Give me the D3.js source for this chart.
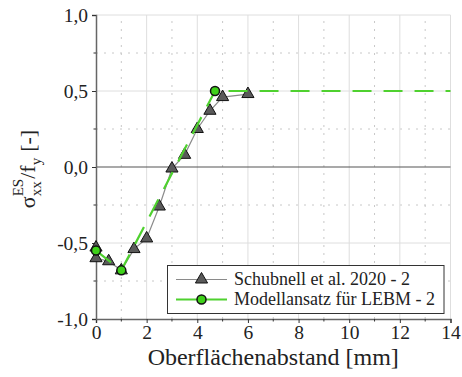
<!DOCTYPE html>
<html>
<head>
<meta charset="utf-8">
<script src="https://cdn.jsdelivr.net/npm/d3@7"></script>
<style>
  html, body { margin: 0; padding: 0; background: #fff; }
  svg { display: block; }
</style>
</head>
<body>
<svg id="chart" width="462" height="377"></svg>
<script>
// Measured residual stress ratio (Schubnell et al. 2020 - 2)
const measX = [0, 0, 0.5, 1, 1.5, 2, 2.5, 3, 3.5, 4, 4.5, 5, 6];
const measY = [-0.53, -0.60, -0.62, -0.68, -0.54, -0.47, -0.26, -0.01, 0.08, 0.25, 0.37, 0.46, 0.48];

// Model approach for LEBM - 2 (line vertices and marked points)
const modelX = [0, 1, 4.7, 14];
const modelY = [-0.55, -0.68, 0.5, 0.5];
const modelMarkX = [0, 1, 4.7];
const modelMarkY = [-0.55, -0.68, 0.5];

const xTicks = [0, 2, 4, 6, 8, 10, 12, 14];
const xMinor = [1, 3, 5, 7, 9, 11, 13];
const yTicks = [-1.0, -0.5, 0.0, 0.5, 1.0];
const yMinor = [-0.75, -0.25, 0.25, 0.75];

const legendLabels = ["Schubnell et al. 2020 - 2", "Modellansatz für LEBM - 2"];

const FONT = "Liberation Serif";

const svg = d3.select("#chart");
const x = d3.scaleLinear().domain([0, 14]).range([96, 450.5]);
const y = d3.scaleLinear().domain([-1, 1]).range([319, 15]);

const green = "#4fd12f";
const fmt = d => d3.format(".1f")(d).replace(".", ",").replace("−", "-");

// grid: minor dotted, major solid
const grid = svg.append("g");
grid.selectAll(".vmin").data(xMinor).join("line")
  .attr("x1", d => x(d)).attr("x2", d => x(d)).attr("y1", y(-1)).attr("y2", y(1))
  .attr("stroke", "#c8c8c8").attr("stroke-width", 1).attr("stroke-dasharray", "2,6");
grid.selectAll(".hmin").data(yMinor).join("line")
  .attr("x1", x(0)).attr("x2", x(14)).attr("y1", d => y(d)).attr("y2", d => y(d))
  .attr("stroke", "#c8c8c8").attr("stroke-width", 1).attr("stroke-dasharray", "2,6");
grid.selectAll(".vmaj").data(xTicks.filter(d => d > 0)).join("line")
  .attr("x1", d => x(d)).attr("x2", d => x(d)).attr("y1", y(-1)).attr("y2", y(1))
  .attr("stroke", "#dedede").attr("stroke-width", 1);
grid.selectAll(".hmaj").data(yTicks.filter(d => d > -1 && d !== 0)).join("line")
  .attr("x1", x(0)).attr("x2", x(14)).attr("y1", d => y(d)).attr("y2", d => y(d))
  .attr("stroke", "#dedede").attr("stroke-width", 1);

// zero line
svg.append("line")
  .attr("x1", x(0)).attr("x2", x(14)).attr("y1", y(0)).attr("y2", y(0))
  .attr("stroke", "#555").attr("stroke-width", 1.2);

// axes
const xAxis = d3.axisBottom(x).tickValues(xTicks).tickSize(4).tickPadding(2).tickFormat(d3.format("d"));
const gx = svg.append("g").attr("transform", `translate(0,${y(-1)})`).call(xAxis);
gx.selectAll(".minor").data(xMinor).join("line").attr("class", "minor")
  .attr("x1", d => x(d)).attr("x2", d => x(d)).attr("y1", 0).attr("y2", 2.5)
  .attr("stroke", "#333");
const yAxis = d3.axisLeft(y).tickValues(yTicks).tickSize(4).tickPadding(4).tickFormat(fmt);
const gy = svg.append("g").attr("transform", `translate(${x(0)},0)`).call(yAxis);
gy.selectAll(".minor").data(yMinor).join("line").attr("class", "minor")
  .attr("x1", 0).attr("x2", -2.5).attr("y1", d => y(d)).attr("y2", d => y(d))
  .attr("stroke", "#333");
[gx, gy].forEach(g => {
  g.attr("font-family", null).attr("font-size", null);
  g.select(".domain").attr("stroke", "#666").attr("stroke-width", 1.5);
  g.selectAll(".tick line").attr("stroke", "#333");
  g.selectAll(".tick text").attr("fill", "#222")
    .attr("font-family", FONT).attr("font-size", 19.5);
});

// measured series
const lineGen = d3.line().x(d => x(d[0])).y(d => y(d[1]));
const meas = measX.map((v, i) => [v, measY[i]]);
svg.append("path").datum(meas).attr("d", lineGen)
  .attr("fill", "none").attr("stroke", "#8a8a8a").attr("stroke-width", 1.2);
const tri = d3.symbol().type(d3.symbolTriangle).size(64);
svg.selectAll(".tri").data(meas).join("path")
  .attr("transform", d => `translate(${x(d[0])},${y(d[1])})`)
  .attr("d", tri).attr("fill", "#5a5a5a").attr("stroke", "#111").attr("stroke-width", 1);

// model series
const model = modelX.map((v, i) => [v, modelY[i]]);
svg.append("path").datum(model).attr("d", lineGen)
  .attr("fill", "none").attr("stroke", green).attr("stroke-width", 2.2)
  .attr("stroke-dasharray", "19,12");
svg.selectAll(".circ").data(modelMarkX.map((v, i) => [v, modelMarkY[i]])).join("circle")
  .attr("cx", d => x(d[0])).attr("cy", d => y(d[1])).attr("r", 4.5)
  .attr("fill", "#3fd11a").attr("stroke", "#111").attr("stroke-width", 1.5);

// legend
const lg = svg.append("g");
lg.append("rect").attr("x", 167.5).attr("y", 265.5).attr("width", 276.5).attr("height", 48)
  .attr("fill", "#fff").attr("stroke", "#333").attr("stroke-width", 1);
const rows = [279.5, 299.5];
lg.append("line").attr("x1", 176).attr("x2", 227).attr("y1", rows[0]).attr("y2", rows[0])
  .attr("stroke", "#8a8a8a").attr("stroke-width", 1.2);
lg.append("path").attr("transform", `translate(201.5,${rows[0]})`).attr("d", tri)
  .attr("fill", "#5a5a5a").attr("stroke", "#111");
lg.append("line").attr("x1", 176).attr("x2", 227).attr("y1", rows[1]).attr("y2", rows[1])
  .attr("stroke", green).attr("stroke-width", 2.2);
lg.append("circle").attr("cx", 201.5).attr("cy", rows[1]).attr("r", 4.5)
  .attr("fill", "#3fd11a").attr("stroke", "#111").attr("stroke-width", 1.5);
lg.selectAll(".lt").data(legendLabels).join("text")
  .attr("x", 234).attr("y", (d, i) => rows[i] + 5.5)
  .attr("font-family", FONT).attr("font-size", 18).attr("fill", "#222").text(d => d);

// axis titles
svg.append("text").attr("x", x(7)).attr("y", 365).attr("text-anchor", "middle")
  .attr("font-family", FONT).attr("font-size", 24).attr("fill", "#222")
  .text("Oberflächenabstand [mm]");

const yl = svg.append("text").attr("transform", `translate(35,169) rotate(-90)`)
  .attr("text-anchor", "middle").attr("font-family", FONT).attr("font-size", 22).attr("fill", "#222");
yl.append("tspan").text("σ");
yl.append("tspan").attr("dy", 6).attr("font-size", 15).text("xx");
yl.append("tspan").attr("dx", -15).attr("dy", -18).attr("font-size", 15).text("ES");
yl.append("tspan").attr("dy", 12).text("/f");
yl.append("tspan").attr("dy", 6).attr("font-size", 15).text("y");
yl.append("tspan").attr("dx", 6).attr("dy", -6).text("[-]");
</script>
</body>
</html>
